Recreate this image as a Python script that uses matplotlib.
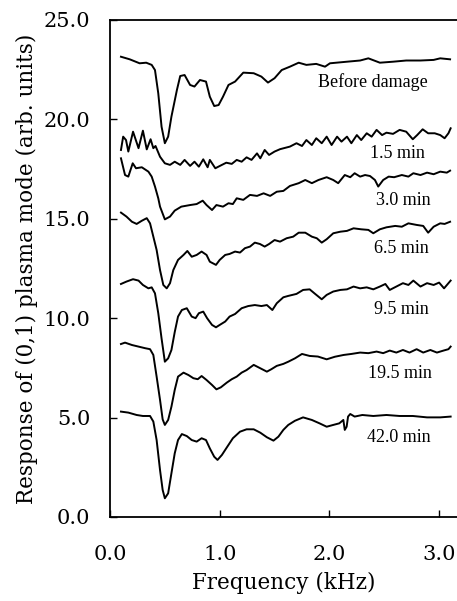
import matplotlib
matplotlib.use("Agg")
import matplotlib.pyplot as plt

f_before = [0.10, 0.18, 0.27, 0.33, 0.38, 0.41, 0.44, 0.47, 0.50, 0.53, 0.56, 0.61, 0.64, 0.68,
            0.73, 0.77, 0.82, 0.875, 0.91, 0.95, 0.99, 1.03, 1.08, 1.14, 1.215, 1.31, 1.38, 1.44,
            1.50, 1.565, 1.64, 1.72, 1.79, 1.88, 1.96, 2.005, 2.16, 2.28, 2.355, 2.46, 2.58,
            2.70, 2.83, 2.95, 3.01, 3.10]
r_before = [23.15, 23.02, 22.82, 22.85, 22.74, 22.48, 21.31, 19.63, 18.80, 19.13, 20.14, 21.48,
            22.18, 22.23, 21.73, 21.65, 21.98, 21.90, 21.14, 20.67, 20.72, 21.14, 21.73, 21.90,
            22.35, 22.32, 22.15, 21.85, 22.07, 22.48, 22.65, 22.85, 22.74, 22.79, 22.65, 22.82,
            22.90, 22.96, 23.07, 22.85, 22.90, 22.96, 22.96, 22.99, 23.07, 23.02]

f_15 = [0.10, 0.12, 0.146, 0.167, 0.21, 0.26, 0.30, 0.335, 0.37, 0.395, 0.415, 0.456, 0.50,
        0.547, 0.59, 0.64, 0.68, 0.73, 0.77, 0.81, 0.85, 0.89, 0.91, 0.96, 1.02, 1.06, 1.11,
        1.155, 1.20, 1.245, 1.29, 1.34, 1.37, 1.41, 1.45, 1.50, 1.55, 1.64, 1.70, 1.75, 1.79,
        1.84, 1.88, 1.93, 1.975, 2.02, 2.07, 2.11, 2.16, 2.20, 2.25, 2.29, 2.34, 2.385, 2.43,
        2.48, 2.52, 2.58, 2.64, 2.70, 2.76, 2.80, 2.85, 2.90, 2.96, 3.01, 3.05, 3.085, 3.105]
r_15 = [18.46, 19.13, 18.96, 18.38, 19.38, 18.55, 19.43, 18.49, 19.00, 18.55, 18.66, 18.12,
        17.79, 17.71, 17.87, 17.71, 17.96, 17.66, 17.87, 17.62, 17.99, 17.59, 17.96, 17.54,
        17.71, 17.82, 17.76, 17.96, 17.87, 18.09, 17.96, 18.29, 18.04, 18.46, 18.21, 18.38,
        18.50, 18.63, 18.80, 18.66, 18.96, 18.71, 19.05, 18.80, 19.13, 18.71, 19.13, 18.88,
        19.13, 18.80, 19.21, 18.96, 19.30, 19.13, 19.47, 19.21, 19.33, 19.27, 19.47, 19.38,
        19.00, 19.21, 19.50, 19.30, 19.30, 19.21, 19.05, 19.30, 19.55]

f_30 = [0.10, 0.137, 0.167, 0.207, 0.237, 0.29, 0.35, 0.38, 0.41, 0.44, 0.456, 0.50, 0.547,
        0.59, 0.65, 0.73, 0.79, 0.845, 0.88, 0.93, 0.97, 1.03, 1.08, 1.12, 1.155, 1.215,
        1.276, 1.34, 1.40, 1.46, 1.52, 1.58, 1.64, 1.72, 1.78, 1.84, 1.90, 1.975, 2.035, 2.08,
        2.14, 2.19, 2.23, 2.28, 2.325, 2.37, 2.415, 2.445, 2.49, 2.54, 2.59, 2.66, 2.72, 2.765,
        2.83, 2.89, 2.95, 3.01, 3.07, 3.10]
r_30 = [18.04, 17.20, 17.12, 17.79, 17.54, 17.59, 17.37, 17.12, 16.62, 16.03, 15.61, 14.97,
        15.11, 15.41, 15.61, 15.69, 15.74, 15.91, 15.69, 15.44, 15.69, 15.61, 15.78, 15.74,
        16.03, 15.95, 16.20, 16.15, 16.28, 16.15, 16.36, 16.40, 16.65, 16.79, 16.95, 16.79,
        16.95, 17.09, 16.95, 16.79, 17.20, 17.09, 17.29, 17.12, 17.20, 17.15, 16.95, 16.62,
        16.95, 17.12, 17.09, 17.20, 17.12, 17.29, 17.20, 17.32, 17.24, 17.37, 17.32, 17.42]

f_65 = [0.10, 0.15, 0.20, 0.243, 0.29, 0.335, 0.365, 0.395, 0.425, 0.456, 0.486, 0.517, 0.547,
        0.577, 0.62, 0.67, 0.705, 0.745, 0.79, 0.835, 0.88, 0.91, 0.966, 1.00, 1.05, 1.09,
        1.14, 1.185, 1.23, 1.276, 1.32, 1.367, 1.41, 1.45, 1.50, 1.55, 1.61, 1.67, 1.72, 1.78,
        1.84, 1.885, 1.93, 1.975, 2.035, 2.10, 2.16, 2.22, 2.29, 2.355, 2.40, 2.46, 2.52, 2.60,
        2.66, 2.72, 2.795, 2.855, 2.90, 2.95, 3.01, 3.05, 3.10]
r_65 = [15.31, 15.11, 14.85, 14.74, 14.90, 15.03, 14.77, 14.10, 13.43, 12.42, 11.67, 11.50,
        11.76, 12.42, 12.93, 13.18, 13.38, 13.09, 13.18, 13.35, 13.18, 12.84, 12.68, 12.93,
        13.18, 13.23, 13.35, 13.30, 13.52, 13.60, 13.80, 13.73, 13.60, 13.73, 13.93, 13.85,
        14.02, 14.10, 14.30, 14.30, 14.10, 14.02, 13.80, 13.97, 14.27, 14.35, 14.39, 14.52,
        14.47, 14.44, 14.27, 14.47, 14.57, 14.64, 14.60, 14.77, 14.69, 14.64, 14.30, 14.60,
        14.77, 14.74, 14.85]

f_95 = [0.10, 0.15, 0.21, 0.26, 0.30, 0.35, 0.38, 0.41, 0.44, 0.47, 0.50, 0.53, 0.56, 0.59,
        0.62, 0.655, 0.70, 0.745, 0.78, 0.81, 0.85, 0.885, 0.93, 0.966, 1.00, 1.05, 1.09, 1.14,
        1.20, 1.26, 1.32, 1.38, 1.43, 1.48, 1.52, 1.58, 1.625, 1.70, 1.76, 1.82, 1.87, 1.93,
        1.975, 2.035, 2.10, 2.16, 2.22, 2.28, 2.34, 2.40, 2.46, 2.51, 2.55, 2.61, 2.67, 2.72,
        2.765, 2.83, 2.89, 2.95, 3.00, 3.045, 3.085, 3.105]
r_95 = [11.72, 11.84, 11.96, 11.89, 11.67, 11.50, 11.55, 11.25, 10.25, 8.98, 7.81, 7.98, 8.40,
        9.30, 10.08, 10.41, 10.50, 10.08, 10.00, 10.25, 10.33, 10.00, 9.66, 9.54, 9.66, 9.83,
        10.08, 10.21, 10.50, 10.61, 10.66, 10.61, 10.66, 10.41, 10.75, 11.05, 11.12, 11.22,
        11.42, 11.45, 11.22, 10.95, 11.17, 11.34, 11.42, 11.45, 11.59, 11.50, 11.55, 11.45,
        11.59, 11.72, 11.42, 11.59, 11.76, 11.67, 11.89, 11.59, 11.76, 11.67, 11.79, 11.50,
        11.76, 11.89]

f_195 = [0.10, 0.137, 0.20, 0.26, 0.32, 0.365, 0.395, 0.425, 0.456, 0.48, 0.50, 0.53, 0.56,
         0.59, 0.62, 0.67, 0.715, 0.76, 0.80, 0.835, 0.88, 0.93, 0.97, 1.01, 1.065, 1.11,
         1.155, 1.20, 1.245, 1.31, 1.37, 1.43, 1.47, 1.52, 1.58, 1.625, 1.686, 1.75, 1.82,
         1.895, 1.975, 2.05, 2.13, 2.20, 2.28, 2.355, 2.43, 2.49, 2.55, 2.61, 2.67, 2.73,
         2.795, 2.855, 2.92, 2.98, 3.04, 3.085, 3.105]
r_195 = [8.70, 8.77, 8.65, 8.57, 8.49, 8.44, 8.15, 7.06, 5.89, 4.91, 4.63, 4.88, 5.55, 6.39,
         7.06, 7.26, 7.14, 6.98, 6.93, 7.09, 6.89, 6.64, 6.42, 6.52, 6.76, 6.93, 7.06, 7.26,
         7.39, 7.65, 7.48, 7.31, 7.43, 7.60, 7.70, 7.81, 7.98, 8.20, 8.10, 8.07, 7.93, 8.06,
         8.15, 8.20, 8.27, 8.24, 8.32, 8.24, 8.37, 8.27, 8.40, 8.27, 8.44, 8.27, 8.40, 8.27,
         8.37, 8.44, 8.57]

f_420 = [0.10, 0.167, 0.243, 0.30, 0.365, 0.395, 0.425, 0.456, 0.48, 0.50, 0.53, 0.56, 0.59,
         0.62, 0.655, 0.70, 0.745, 0.79, 0.835, 0.875, 0.91, 0.95, 0.98, 1.02, 1.065, 1.12,
         1.185, 1.245, 1.31, 1.37, 1.43, 1.49, 1.535, 1.58, 1.625, 1.686, 1.76, 1.84, 1.91,
         1.975, 2.035, 2.09, 2.127, 2.14, 2.157, 2.17, 2.19, 2.23, 2.30, 2.40, 2.52, 2.64,
         2.76, 2.89, 3.01, 3.105]
r_420 = [5.30, 5.25, 5.13, 5.08, 5.08, 4.80, 3.87, 2.36, 1.36, 0.94, 1.19, 2.20, 3.20, 3.87,
         4.17, 4.07, 3.87, 3.79, 3.96, 3.87, 3.45, 3.03, 2.87, 3.12, 3.50, 3.96, 4.29, 4.41,
         4.41, 4.24, 4.01, 3.84, 4.04, 4.38, 4.63, 4.84, 5.01, 4.88, 4.71, 4.54, 4.63, 4.71,
         4.88, 4.38, 4.54, 5.05, 5.18, 5.05, 5.13, 5.08, 5.13, 5.08, 5.08, 5.01, 5.01, 5.05]

curves = [(f_before, r_before), (f_15, r_15), (f_30, r_30), (f_65, r_65),
          (f_95, r_95), (f_195, r_195), (f_420, r_420)]

labels = ["Before damage", "1.5 min", "3.0 min", "6.5 min", "9.5 min", "19.5 min", "42.0 min"]
label_x = [2.40, 2.62, 2.67, 2.66, 2.66, 2.64, 2.63]
label_y = [21.9, 18.26, 15.9, 13.48, 10.46, 7.24, 4.02]

fig = plt.figure(figsize=(4.57, 6.01), dpi=100)
ax = fig.add_axes([0.2407, 0.1398, 0.7593, 0.827])

for f, r in curves:
    ax.plot(f, r, color="black", lw=1.4)

for txt, lx, ly in zip(labels, label_x, label_y):
    ax.text(lx, ly, txt, ha="center", va="center", fontsize=13,
            family="Liberation Serif")

ax.set_xlim(0, 3.163)
ax.set_ylim(0, 25)
ax.set_xticks([0.0, 1.0, 2.0, 3.0])
ax.set_yticks([0.0, 5.0, 10.0, 15.0, 20.0, 25.0])
ax.set_xticklabels(["0.0", "1.0", "2.0", "3.0"])
ax.set_yticklabels(["0.0", "5.0", "10.0", "15.0", "20.0", "25.0"])
ax.spines["right"].set_visible(False)
for s in ["left", "bottom", "top"]:
    ax.spines[s].set_linewidth(1.3)
ax.tick_params(direction="in", length=5, width=1.0, labelsize=15)
ax.tick_params(axis="x", pad=20)
ax.tick_params(axis="y", pad=14)
for lab in ax.get_xticklabels() + ax.get_yticklabels():
    lab.set_family("DejaVu Serif")

ax.set_xlabel("Frequency (kHz)", fontsize=15.5, family="DejaVu Serif", labelpad=6)
ax.set_ylabel("Response of (0,1) plasma mode (arb. units)", fontsize=15.5,
              family="DejaVu Serif", labelpad=4)

fig.savefig("out.png", dpi=100)
